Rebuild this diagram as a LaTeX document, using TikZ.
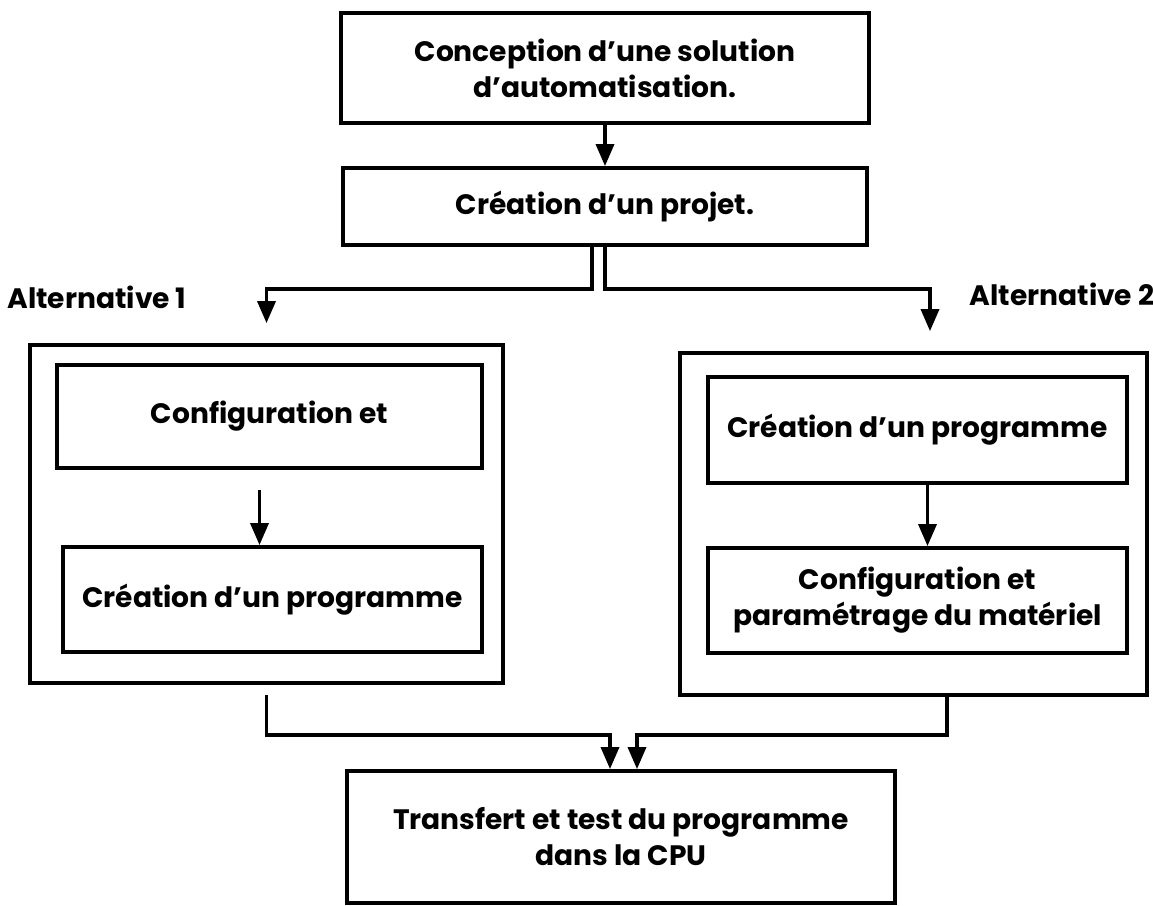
\documentclass[tikz,border=0pt]{standalone}
\usepackage{fontspec}
\setmainfont{Poppins}
\usetikzlibrary{arrows.meta}

\tikzset{
  box/.style={draw, line width=2.2pt, align=center, inner sep=0pt,
    font=\bfseries\fontsize{16}{20.5}\selectfont},
  txt/.style={font=\bfseries\fontsize{16}{20.5}\selectfont},
  link/.style={line width=2pt},
  arr/.style={link, -{Triangle[length=0.44cm,width=0.36cm]}},
}

\begin{document}
\begin{tikzpicture}[x=0.02cm, y=-0.02cm]
  %%%%% START %%%%%
  \useasboundingbox (0,0) rectangle (1153,906);

  \node[box, minimum width=10.56cm, minimum height=2.2cm] (concept) at (605,68)
    {Conception d’une solution\\d’automatisation.};
  \node[box, minimum width=10.48cm, minimum height=1.54cm] (projet) at (605,206.5)
    {Création d’un projet.};

  \node[txt] (alt1) at (97,297) {Alternative 1};
  \node[txt] (alt2) at (1062,294) {Alternative 2};

  % alternative 1
  \node[box, minimum width=9.46cm, minimum height=6.76cm] (outerL) at (266.5,514) {};
  \node[box, minimum width=8.5cm, minimum height=2.06cm] (confL) at (269.5,416.5)
    {Configuration et};
  \node[box, minimum width=8.38cm, minimum height=2.1cm] (progL) at (272.5,599.5)
    {Création d’un programme};

  % alternative 2
  \node[box, minimum width=9.34cm, minimum height=6.84cm] (outerR) at (913.5,524) {};
  \node[box, minimum width=8.38cm, minimum height=2.12cm] (progR) at (917.5,430)
    {Création d’un programme};
  \node[box, minimum width=8.38cm, minimum height=2.1cm] (confR) at (917.5,600.5)
    {Configuration et\\paramétrage du matériel};

  \node[box, minimum width=10.96cm, minimum height=2.64cm] (cpu) at (621,837)
    {Transfert et test du programme\\dans la CPU};

  \coordinate (inL) at ([yshift=0.4cm]outerL.north);
  \coordinate (inR) at ([xshift=0.33cm,yshift=0.4cm]outerR.north);
  \coordinate (cpuL) at ([xshift=-0.22cm]cpu.north);
  \coordinate (cpuR) at ([xshift=0.32cm]cpu.north);

  \draw[arr] (concept) -- (projet);
  \draw[arr] ([xshift=-0.26cm]projet.south) -- ++(0,42) -| (inL);
  \draw[arr] (projet.south) -- ++(0,42) -| (inR);

  \draw[arr] ([xshift=-0.2cm,yshift=-0.4cm]confL.south) -- ([xshift=-0.2cm]confL.south |- progL.north);
  \draw[arr] ([xshift=0.2cm]progR.south) -- ([xshift=0.2cm]progR.south |- confR.north);

  \draw[arr] ([yshift=-0.2cm]outerL.south) -- ++(0,40) -| (cpuL);
  \draw[arr] ([xshift=0.67cm]outerR.south) -- ++(0,38) -| (cpuR);
  %%%%% END %%%%%
\end{tikzpicture}
\end{document}
